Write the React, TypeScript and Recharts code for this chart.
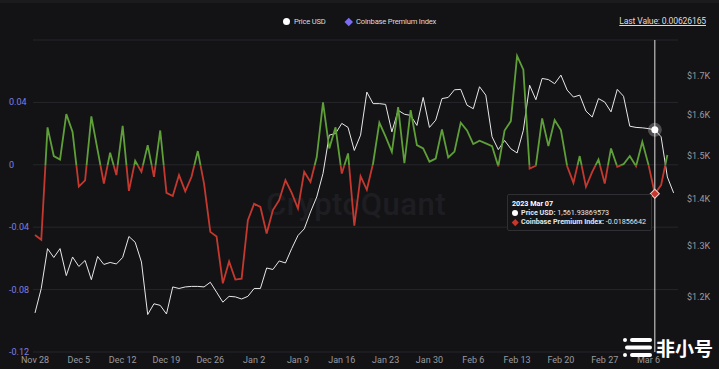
import { LineChart, Line, XAxis, YAxis, CartesianGrid, Tooltip } from 'recharts';

// daily ETH price (USD), Nov 28 2022 -> Mar 10 2023
const price = [
  1170, 1216, 1295, 1277, 1295, 1241, 1278, 1259, 1271, 1233,
  1279, 1263, 1267, 1264, 1277, 1320, 1308, 1268, 1167, 1187,
  1184, 1168, 1219, 1216, 1219, 1220, 1220, 1219, 1228, 1209,
  1190, 1201, 1200, 1196, 1201, 1216, 1216, 1256, 1253, 1270,
  1266, 1295, 1322, 1336, 1372, 1405, 1458, 1549, 1553, 1578,
  1568, 1512, 1549, 1658, 1628, 1628, 1626, 1557, 1611, 1601,
  1598, 1573, 1644, 1568, 1586, 1641, 1644, 1664, 1665, 1624,
  1615, 1672, 1650, 1545, 1514, 1536, 1516, 1506, 1561, 1676,
  1638, 1694, 1691, 1680, 1703, 1663, 1645, 1650, 1609, 1594,
  1641, 1632, 1607, 1665, 1647, 1571, 1568, 1567, 1565, 1561.93869573,
  1545, 1450, 1414,
];

// Coinbase premium index, Nov 28 2022 -> Mar 9 2023
const premium = [
  -0.045, -0.048, 0.024, 0.0056, 0.0034, 0.0325, 0.021, -0.014, -0.01, 0.031,
  0.0094, -0.012, 0.0077, -0.0066, 0.025, -0.0167, 0.0026, -0.0045, 0.0126, -0.0077,
  0.022, -0.018, -0.02, -0.0066, -0.017, -0.0077, 0.0088, -0.012, -0.043, -0.046,
  -0.076, -0.062, -0.0736, -0.073, -0.0355, -0.025, -0.027, -0.044, -0.029, -0.0227,
  -0.0098, -0.018, -0.028, -0.0045, -0.011, 0.005, 0.04, 0.0105, 0.024, -0.0056,
  0.0073, -0.039, -0.0073, -0.016, 0.001, 0.027, 0.018, 0.0083, 0.037, 0.001,
  0.035, 0.0126, 0.0105, 0.002, 0.004, 0.0227, 0.0047, 0.0085, 0.027, 0.022,
  0.0133, 0.0154, 0.0137, 0.012, -0.001, 0.022, 0.028, 0.0698, 0.061, -0.0024,
  -0.0006, 0.0297, 0.012, 0.0287, 0.0223, -0.001, -0.0116, 0.0056, -0.0141, -0.0045,
  0.0034, -0.012, 0.0105, -0.0013, 0.0004, 0.0056, -0.0009, 0.0148, -0.0002, -0.01856642,
  -0.013, 0.00626165,
];

const tickDays = [0, 7, 14, 21, 28, 35, 42, 49, 56, 63, 70, 77, 84, 91, 98];
const tickLabels = [
  'Nov 28', 'Dec 5', 'Dec 12', 'Dec 19', 'Dec 26', 'Jan 2', 'Jan 9', 'Jan 16',
  'Jan 23', 'Jan 30', 'Feb 6', 'Feb 13', 'Feb 20', 'Feb 27', 'Mar 6',
];
const leftTicks = [-0.12, -0.08, -0.04, 0, 0.04, 0.08];
const rightTicks = [1200, 1300, 1400, 1500, 1600, 1700];

const MONTHS = ['Jan', 'Feb', 'Mar', 'Apr', 'May', 'Jun', 'Jul', 'Aug', 'Sep', 'Oct', 'Nov', 'Dec'];
const START = Date.UTC(2022, 10, 28);
const HOVER_DAY = 99;

const data = price.map((p, i) => ({
  day: i,
  price: p,
  premium: i < premium.length ? premium[i] : null,
}));

const pMax = Math.max(...premium);
const pMin = Math.min(...premium);
const zeroOff = pMax / (pMax - pMin);

const GREEN = '#5e9f38';
const RED = '#c4382e';
const BG = '#131316';
const FONT = 'Roboto, "Noto Sans", sans-serif';

function dateLabel(day: number) {
  const d = new Date(START + day * 86400000);
  return `${d.getUTCFullYear()} ${MONTHS[d.getUTCMonth()]} ${String(d.getUTCDate()).padStart(2, '0')}`;
}

function LeftTick(props: any) {
  const { y, payload } = props;
  if (payload.value === 0.08) return <g />;
  return (
    <text x={9} y={y} dy={3} fill="#7f7fe0" fontSize={9} fontFamily={FONT}>
      {String(payload.value)}
    </text>
  );
}

function TipContent({ active, payload, label }: any) {
  if (!active || !payload || !payload.length) return null;
  const pr = payload.find((p: any) => p.dataKey === 'price');
  const pm = payload.find((p: any) => p.dataKey === 'premium');
  return (
    <div
      style={{
        background: '#141417',
        border: '1px solid #303034',
        borderRadius: 2,
        padding: '4px 5px 4px 4px',
        fontFamily: FONT,
        fontSize: 7.2,
        lineHeight: '9px',
        color: '#e6e6e6',
        whiteSpace: 'nowrap',
      }}
    >
      <div style={{ fontWeight: 700, color: '#fff' }}>{dateLabel(label)}</div>
      {pr && (
        <div>
          <span style={{ display: 'inline-block', width: 6, height: 6, borderRadius: 3, background: '#fff', marginRight: 3, verticalAlign: -0.5 }} />
          <b>Price USD:</b> {pr.value.toLocaleString('en-US', { minimumFractionDigits: 8 })}
        </div>
      )}
      {pm && (
        <div>
          <span style={{ display: 'inline-block', width: 4.5, height: 4.5, background: RED, transform: 'rotate(45deg)', marginLeft: 1, marginRight: 3.5, verticalAlign: 0 }} />
          <b>Coinbase Premium Index:</b> {pm.value}
        </div>
      )}
    </div>
  );
}

const priceDot = (props: any) => (
  <g key="pd">
    <circle cx={props.cx} cy={props.cy} r={7} fill="#ffffff" fillOpacity={0.25} />
    <circle cx={props.cx} cy={props.cy} r={3.5} fill="#ffffff" />
  </g>
);

const premiumDot = (props: any) => (
  <rect
    key="md"
    x={props.cx - 3.2}
    y={props.cy - 3.2}
    width={6.4}
    height={6.4}
    fill={RED}
    stroke="#f3d0cc"
    strokeWidth={1}
    transform={`rotate(45 ${props.cx} ${props.cy})`}
  />
);

export default function App() {
  return (
    <div style={{ position: 'fixed', left: 0, top: 0, width: 719, height: 369, background: BG, overflow: 'hidden', fontFamily: FONT }}>
      <div style={{ position: 'absolute', left: 0, top: 0, width: 719, height: 3, background: '#1b1b1e' }} />
      <div
        style={{
          position: 'absolute', left: 266, top: 186, fontSize: 31, fontWeight: 500,
          color: '#1e1e22', letterSpacing: 0.5, fontFamily: FONT,
        }}
      >
        CryptoQuant
      </div>

      <LineChart width={719} height={369} data={data} margin={{ top: 40, right: 0, bottom: 0, left: 0 }}>
        <defs>
          <linearGradient id="premGrad" x1="0" y1="0" x2="0" y2="1">
            <stop offset={zeroOff} stopColor={GREEN} />
            <stop offset={zeroOff} stopColor={RED} />
          </linearGradient>
        </defs>
        <CartesianGrid vertical={false} stroke="#27272b" yAxisId="left" />
        <XAxis
          dataKey="day"
          type="number"
          domain={[-0.32, 102.7]}
          ticks={tickDays}
          tickFormatter={(v: number) => tickLabels[tickDays.indexOf(v)]}
          axisLine={false}
          tickLine={false}
          tickSize={0}
          tickMargin={5}
          height={17}
          tick={{ fill: '#9a9a9e', fontSize: 9, fontFamily: FONT }}
        />
        <YAxis
          yAxisId="left"
          domain={[-0.12, 0.08]}
          ticks={leftTicks}
          width={33}
          axisLine={false}
          tickLine={false}
          tick={LeftTick}
          allowDataOverflow
        />
        <YAxis
          yAxisId="right"
          orientation="right"
          scale="log"
          domain={[1100, 1800]}
          ticks={rightTicks}
          width={41}
          axisLine={false}
          tickLine={false}
          tickSize={0}
          tickMargin={9}
          tickFormatter={(v: number) => `$${(v / 1000).toFixed(1)}K`}
          tick={{ fill: '#9a9a9e', fontSize: 9, fontFamily: FONT, textAnchor: 'start' }}
          allowDataOverflow
        />
        <Tooltip
          defaultIndex={HOVER_DAY}
          active
          position={{ x: 507, y: 194 }}
          content={<TipContent />}
          cursor={{ stroke: '#e0e0e0', strokeWidth: 1 }}
          isAnimationActive={false}
          wrapperStyle={{ outline: 'none' }}
        />
        <Line
          yAxisId="right"
          dataKey="price"
          type="linear"
          stroke="#e8e8e8"
          strokeWidth={1}
          dot={false}
          activeDot={priceDot}
          isAnimationActive={false}
        />
        <Line
          yAxisId="left"
          dataKey="premium"
          type="linear"
          stroke="url(#premGrad)"
          strokeWidth={1.8}
          dot={false}
          activeDot={premiumDot}
          isAnimationActive={false}
        />
      </LineChart>

      <div style={{ position: 'absolute', top: 17, left: 0, width: 719, display: 'flex', justifyContent: 'center', alignItems: 'center', fontSize: 7.6, letterSpacing: -0.2, color: '#dcdcdc', gap: 20 }}>
        <span style={{ display: 'flex', alignItems: 'center' }}>
          <span style={{ width: 7, height: 7, borderRadius: 4, background: '#fff', marginRight: 4 }} />
          Price USD
        </span>
        <span style={{ display: 'flex', alignItems: 'center' }}>
          <span style={{ width: 5.5, height: 5.5, background: '#7b6cf2', transform: 'rotate(45deg)', marginRight: 5 }} />
          Coinbase Premium Index
        </span>
      </div>
      <div style={{ position: 'absolute', top: 16, right: 13, fontSize: 8.6, letterSpacing: -0.15, color: '#dcdcdc', textDecoration: 'underline' }}>
        Last Value: 0.00626165
      </div>

      <div style={{ position: 'absolute', left: 623, top: 337, display: 'flex', alignItems: 'center' }}>
        <svg width={31} height={21}>
          <rect x={0} y={1} width={4} height={4} rx={2} fill="#fff" />
          <rect x={7} y={1} width={22} height={4} rx={2} fill="#fff" />
          <rect x={2} y={8.5} width={27} height={4} rx={2} fill="#fff" />
          <rect x={0} y={16} width={4} height={4} rx={2} fill="#fff" />
          <rect x={7} y={16} width={22} height={4} rx={2} fill="#fff" />
        </svg>
        <span style={{ fontFamily: '"Noto Sans CJK SC", sans-serif', fontWeight: 700, fontSize: 19, color: '#fff', marginLeft: 2, lineHeight: '21px' }}>
          非小号
        </span>
      </div>
    </div>
  );
}
